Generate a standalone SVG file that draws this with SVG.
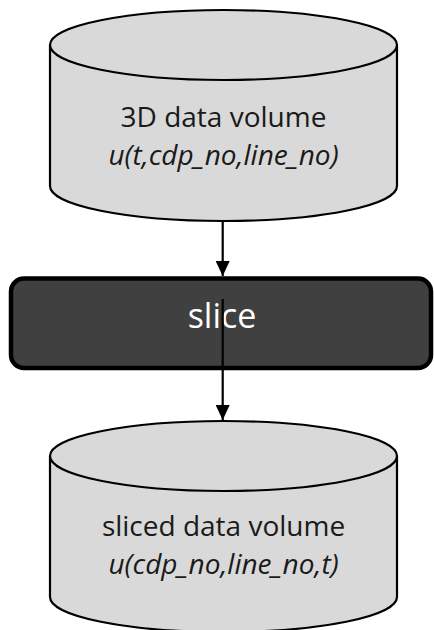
<svg xmlns="http://www.w3.org/2000/svg" width="434" height="630" viewBox="0 0 434 630">
<style>
.cyl{fill:#d9d9d9;stroke:#000;stroke-width:2.2}
.t{font-family:"Open Sans","Liberation Sans",sans-serif;font-size:28px;fill:#1a1a1a;text-anchor:middle}
.i{font-style:italic}
.box{fill:#404040;stroke:#000;stroke-width:4.5}
.st{font-family:"Open Sans","Liberation Sans",sans-serif;font-size:34px;fill:#fff;text-anchor:middle}
.c{stroke:#000;stroke-width:2.2;fill:none}
</style>
<defs>
<marker id="ah" markerWidth="15" markerHeight="14" refX="15" refY="7" orient="auto" markerUnits="userSpaceOnUse">
<path d="M0,0 L15,7 L0,14 Z" fill="#000"/>
</marker>
</defs>
<g id="volume3d">
<path class="cyl" d="M50,45 L50,186 A173.5,35 0 0 0 397,186 L397,45 A173.5,35 0 0 0 50,45 Z"/>
<path class="cyl" d="M50,45 A173.5,35 0 0 0 397,45" fill="none"/>
<text class="t" x="223.5" y="127">3D data volume</text>
<text class="t i" x="223.5" y="165">u(t,cdp_no,line_no)</text>
</g>
<g id="slice">
<rect class="box" x="11" y="278.5" width="420" height="89.5" rx="13"/>
<text class="st" x="222" y="328">slice</text>
</g>
<g id="volumesliced">
<path class="cyl" d="M50,456 L50,597 A173.5,35 0 0 0 397,597 L397,456 A173.5,35 0 0 0 50,456 Z"/>
<path class="cyl" d="M50,456 A173.5,35 0 0 0 397,456" fill="none"/>
<text class="t" x="223.5" y="536">sliced data volume</text>
<text class="t i" x="223.5" y="574">u(cdp_no,line_no,t)</text>
</g>
<g id="connectors">
<line class="c" x1="222.7" y1="221" x2="222.7" y2="276" marker-end="url(#ah)"/>
<line class="c" x1="222.7" y1="299" x2="222.7" y2="420" marker-end="url(#ah)"/>
</g>
</svg>
